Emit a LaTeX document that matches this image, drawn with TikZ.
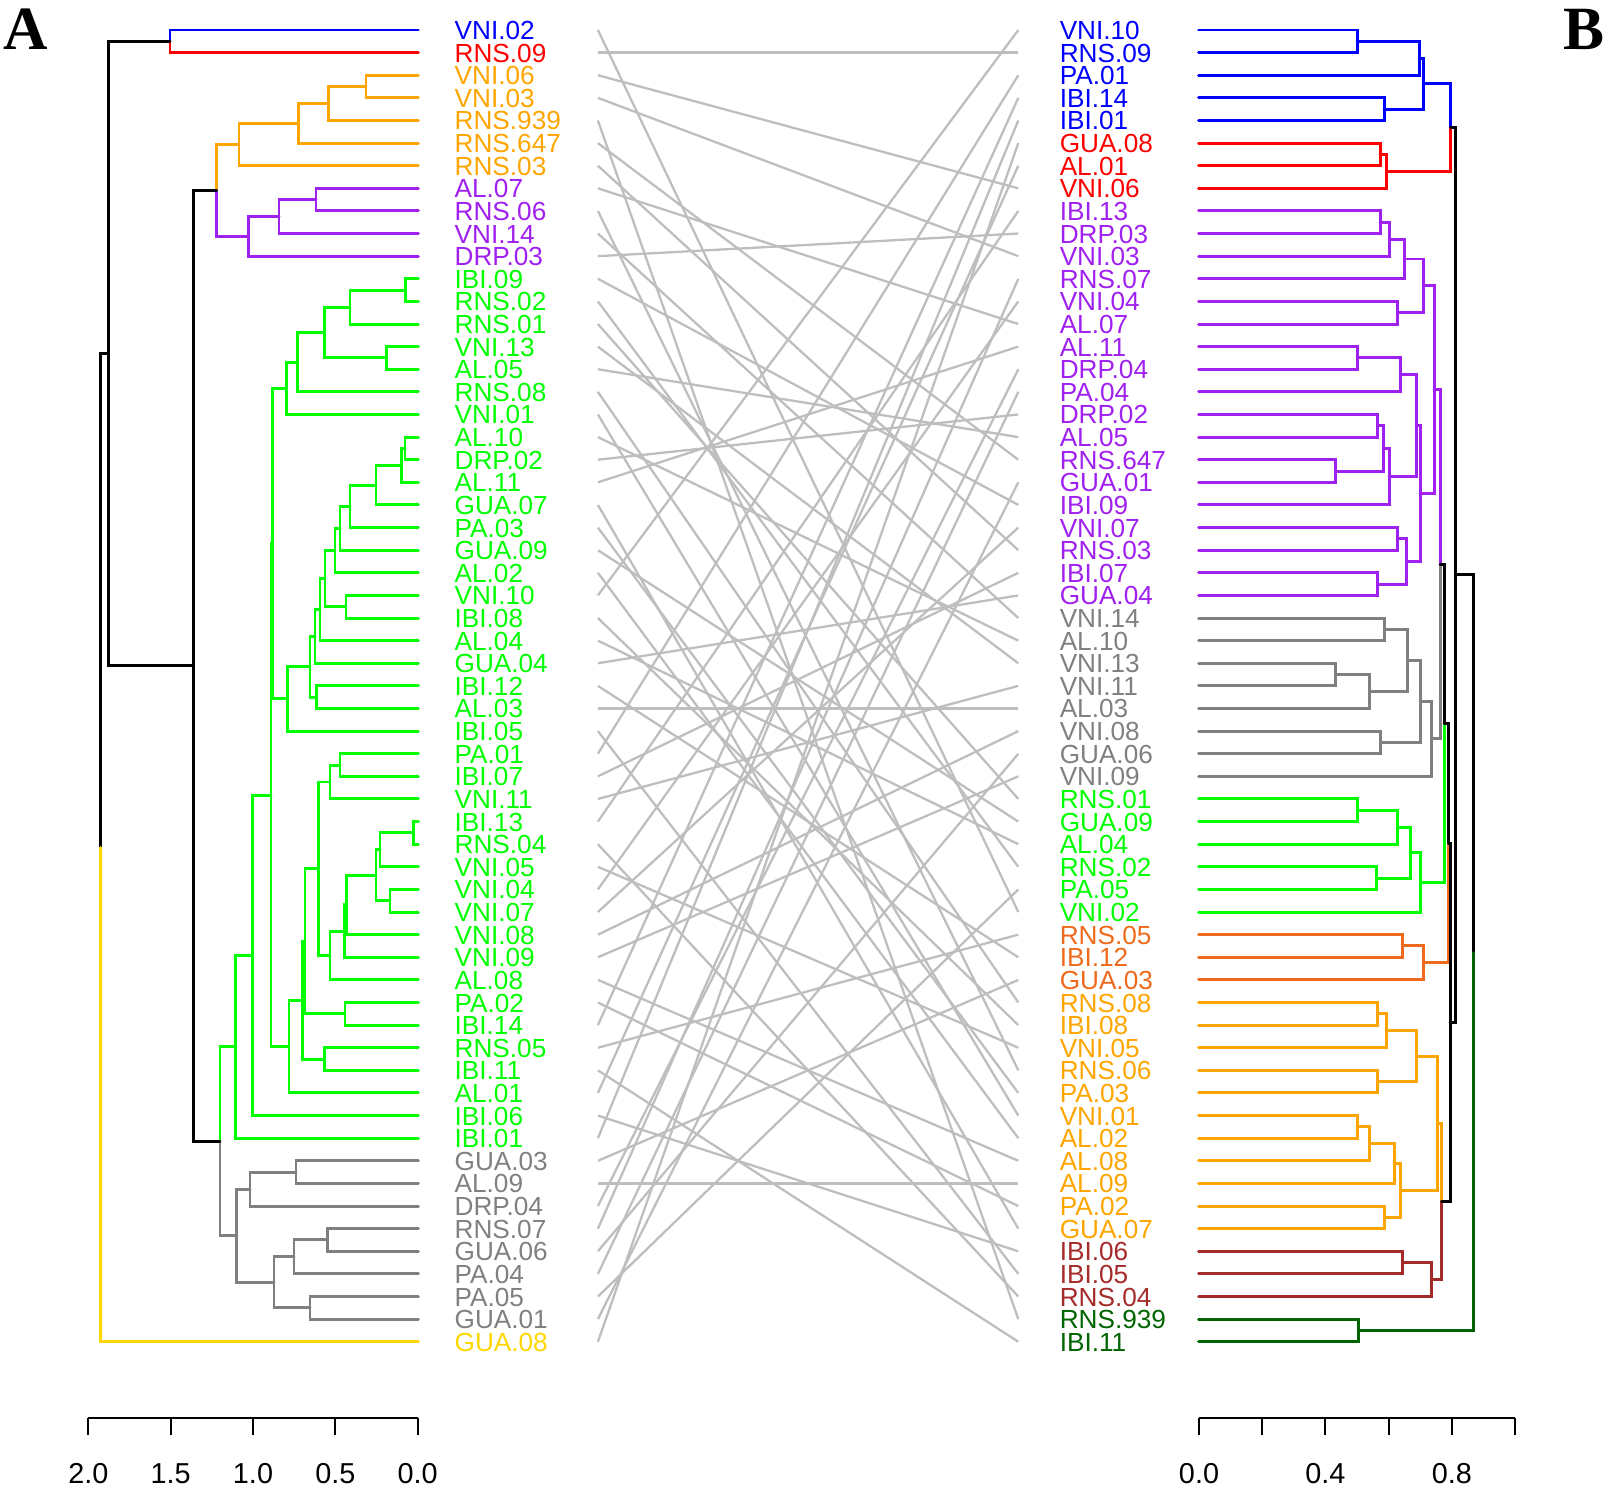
\documentclass[tikz,border=0pt]{standalone}
\usepackage{fontspec}
\setmainfont{Liberation Sans}
\newfontfamily\panelfont{Liberation Serif}
\usetikzlibrary{calc}

\definecolor{cblu}{HTML}{0000FF}
\definecolor{cred}{HTML}{FF0000}
\definecolor{corg}{HTML}{FFA500}
\definecolor{cpur}{HTML}{A020F0}
\definecolor{cgrn}{HTML}{00FF00}
\definecolor{cgry}{HTML}{808080}
\definecolor{cgld}{HTML}{FFD700}
\definecolor{cdor}{HTML}{EE6A1C}
\definecolor{cbrn}{HTML}{A52A2A}
\definecolor{cdgr}{HTML}{006400}
\definecolor{clink}{HTML}{BEBEBE}

\tikzset{
  branch/.style={line width=1.7pt, line cap=round},
  link/.style={clink, line width=1.3pt},
  axisline/.style={line width=1.1pt},
  leaflab/.style={anchor=base west, inner sep=0pt, font=\fontsize{14.9}{15}\selectfont},
  ticklab/.style={anchor=base, inner sep=0pt, font=\fontsize{16.4}{17}\selectfont},
  panel/.style={anchor=base west, inner sep=0pt, font=\panelfont\bfseries\fontsize{35}{35}\selectfont}
}

% merge: name, x, first child, second child, colour to first, colour to second
\newcommand{\mrg}[6]{%
  \coordinate (#1m) at ($(#3)!.5!(#4)$);
  \coordinate (#1) at (#1m -| #2,0);
  \draw[branch,#5] (#1) |- (#3);
  \draw[branch,#6] (#1) |- (#4);
}

\begin{document}
\begin{tikzpicture}[x=0.02cm,y=-0.02cm]
\useasboundingbox (0,0) rectangle (1608,1488);

\foreach \lab/\col [count=\i] in {VNI.10/cblu, RNS.09/cblu, PA.01/cblu, IBI.14/cblu, IBI.01/cblu,
  GUA.08/cred, AL.01/cred, VNI.06/cred,
  IBI.13/cpur, DRP.03/cpur, VNI.03/cpur, RNS.07/cpur, VNI.04/cpur, AL.07/cpur, AL.11/cpur,
  DRP.04/cpur, PA.04/cpur, DRP.02/cpur, AL.05/cpur, RNS.647/cpur, GUA.01/cpur, IBI.09/cpur,
  VNI.07/cpur, RNS.03/cpur, IBI.07/cpur, GUA.04/cpur,
  VNI.14/cgry, AL.10/cgry, VNI.13/cgry, VNI.11/cgry, AL.03/cgry, VNI.08/cgry, GUA.06/cgry, VNI.09/cgry,
  RNS.01/cgrn, GUA.09/cgrn, AL.04/cgrn, RNS.02/cgrn, PA.05/cgrn, VNI.02/cgrn,
  RNS.05/cdor, IBI.12/cdor, GUA.03/cdor,
  RNS.08/corg, IBI.08/corg, VNI.05/corg, RNS.06/corg, PA.03/corg, VNI.01/corg, AL.02/corg,
  AL.08/corg, AL.09/corg, PA.02/corg, GUA.07/corg,
  IBI.06/cbrn, IBI.05/cbrn, RNS.04/cbrn, RNS.939/cdgr, IBI.11/cdgr} {
  \pgfmathsetmacro\yy{30+(\i-1)*22.616}
  \coordinate (r\i) at (1198.5,\yy);
  \coordinate (mr\i) at (1018.3,\yy);
  \node[leaflab,text=\col] (R\i) at (1059.4,\yy+9.5) {\lab};
}

\foreach \lab/\col/\j [count=\i] in {VNI.02/cblu/40, RNS.09/cred/2,
  VNI.06/corg/8, VNI.03/corg/11, RNS.939/corg/58, RNS.647/corg/20, RNS.03/corg/24,
  AL.07/cpur/14, RNS.06/cpur/47, VNI.14/cpur/27, DRP.03/cpur/10,
  IBI.09/cgrn/22, RNS.02/cgrn/38, RNS.01/cgrn/35, VNI.13/cgrn/29, AL.05/cgrn/19, RNS.08/cgrn/44,
  VNI.01/cgrn/49, AL.10/cgrn/28, DRP.02/cgrn/18, AL.11/cgrn/15, GUA.07/cgrn/54, PA.03/cgrn/48,
  GUA.09/cgrn/36, AL.02/cgrn/50, VNI.10/cgrn/1, IBI.08/cgrn/45, AL.04/cgrn/37, GUA.04/cgrn/26,
  IBI.12/cgrn/42, AL.03/cgrn/31, IBI.05/cgrn/56, PA.01/cgrn/3, IBI.07/cgrn/25, VNI.11/cgrn/30,
  IBI.13/cgrn/9, RNS.04/cgrn/57, VNI.05/cgrn/46, VNI.04/cgrn/13, VNI.07/cgrn/23, VNI.08/cgrn/32,
  VNI.09/cgrn/34, AL.08/cgrn/51, PA.02/cgrn/53, IBI.14/cgrn/4, RNS.05/cgrn/41, IBI.11/cgrn/59,
  AL.01/cgrn/7, IBI.06/cgrn/55, IBI.01/cgrn/5,
  GUA.03/cgry/43, AL.09/cgry/52, DRP.04/cgry/16, RNS.07/cgry/12, GUA.06/cgry/33, PA.04/cgry/17,
  PA.05/cgry/39, GUA.01/cgry/21, GUA.08/cgld/6} {
  \pgfmathsetmacro\yy{30+(\i-1)*22.616}
  \coordinate (l\i) at (418.3,\yy);
  \coordinate (ml\i) at (597.9,\yy);
  \node[leaflab,text=\col] (L\i) at (454.3,\yy+9.5) {\lab};
  \draw[link] (ml\i) -- (mr\j);
}

% left tree
\mrg{aE3}{366}{l3}{l4}{corg}{corg}
\mrg{aE2}{328.3}{aE3}{l5}{corg}{corg}
\mrg{aE1}{298.3}{aE2}{l6}{corg}{corg}
\mrg{aE}{239}{aE1}{l7}{corg}{corg}
\mrg{aP2}{316}{l8}{l9}{cpur}{cpur}
\mrg{aP1}{279}{aP2}{l10}{cpur}{cpur}
\mrg{aP}{248.3}{aP1}{l11}{cpur}{cpur}
\mrg{aC}{216.7}{aE}{aP}{corg}{cpur}
\mrg{aGd}{405.7}{l12}{l13}{cgrn}{cgrn}
\mrg{aGc}{350}{aGd}{l14}{cgrn}{cgrn}
\mrg{aGe}{386.7}{l15}{l16}{cgrn}{cgrn}
\mrg{aGb}{324.3}{aGc}{aGe}{cgrn}{cgrn}
\mrg{aGa}{297.3}{aGb}{l17}{cgrn}{cgrn}
\mrg{aG4}{286.7}{aGa}{l18}{cgrn}{cgrn}
\mrg{aG15}{405}{l19}{l20}{cgrn}{cgrn}
\mrg{aG14}{401.7}{aG15}{l21}{cgrn}{cgrn}
\mrg{aG13}{376}{aG14}{l22}{cgrn}{cgrn}
\mrg{aG12}{350}{aG13}{l23}{cgrn}{cgrn}
\mrg{aG11}{340}{aG12}{l24}{cgrn}{cgrn}
\mrg{aG10}{335}{aG11}{l25}{cgrn}{cgrn}
\mrg{aG9b}{346}{l26}{l27}{cgrn}{cgrn}
\mrg{aG9}{325}{aG10}{aG9b}{cgrn}{cgrn}
\mrg{aG8}{320}{aG9}{l28}{cgrn}{cgrn}
\mrg{aG7}{315}{aG8}{l29}{cgrn}{cgrn}
\mrg{aG6b}{316.7}{l30}{l31}{cgrn}{cgrn}
\mrg{aG6}{310}{aG7}{aG6b}{cgrn}{cgrn}
\mrg{aG5}{287.7}{aG6}{l32}{cgrn}{cgrn}
\mrg{aG3}{272.7}{aG4}{aG5}{cgrn}{cgrn}
\mrg{aJ1}{340}{l33}{l34}{cgrn}{cgrn}
\mrg{aJ2}{330}{aJ1}{l35}{cgrn}{cgrn}
\mrg{aK1}{413.3}{l36}{l37}{cgrn}{cgrn}
\mrg{aK2}{380}{aK1}{l38}{cgrn}{cgrn}
\mrg{aK3b}{390}{l39}{l40}{cgrn}{cgrn}
\mrg{aK3}{376}{aK2}{aK3b}{cgrn}{cgrn}
\mrg{aK4}{346.7}{aK3}{l41}{cgrn}{cgrn}
\mrg{aK5}{344.3}{aK4}{l42}{cgrn}{cgrn}
\mrg{aK6}{330}{aK5}{l43}{cgrn}{cgrn}
\mrg{aK7}{318.3}{aJ2}{aK6}{cgrn}{cgrn}
\mrg{aK8b}{345}{l44}{l45}{cgrn}{cgrn}
\mrg{aK8}{305}{aK7}{aK8b}{cgrn}{cgrn}
\mrg{aB1b}{324.3}{l46}{l47}{cgrn}{cgrn}
\mrg{aB1}{302.3}{aK8}{aB1b}{cgrn}{cgrn}
\mrg{aB0}{289}{aB1}{l48}{cgrn}{cgrn}
\mrg{aG2}{271}{aG3}{aB0}{cgrn}{cgrn}
\mrg{aG1}{252.3}{aG2}{l49}{cgrn}{cgrn}
\mrg{aG}{235.7}{aG1}{l50}{cgrn}{cgrn}
\mrg{aH1a}{296}{l51}{l52}{cgry}{cgry}
\mrg{aH1}{250}{aH1a}{l53}{cgry}{cgry}
\mrg{aH2c}{327.3}{l54}{l55}{cgry}{cgry}
\mrg{aH2a}{294}{aH2c}{l56}{cgry}{cgry}
\mrg{aH2b}{310}{l57}{l58}{cgry}{cgry}
\mrg{aH2}{274}{aH2a}{aH2b}{cgry}{cgry}
\mrg{aH}{236.7}{aH1}{aH2}{cgry}{cgry}
\mrg{aD}{220}{aG}{aH}{cgrn}{cgry}
\mrg{aB}{193.3}{aC}{aD}{black}{black}
\mrg{aBR}{170}{l1}{l2}{cblu}{cred}
\mrg{aA}{108.3}{aBR}{aB}{black}{black}
\mrg{aRoot}{100.7}{aA}{l59}{black}{cgld}

% right tree
\mrg{bB1}{1357.3}{r1}{r2}{cblu}{cblu}
\mrg{bB2}{1419.3}{bB1}{r3}{cblu}{cblu}
\mrg{bB3}{1384}{r4}{r5}{cblu}{cblu}
\mrg{bB}{1423.3}{bB2}{bB3}{cblu}{cblu}
\mrg{bR1}{1380}{r6}{r7}{cred}{cred}
\mrg{bR}{1386.7}{bR1}{r8}{cred}{cred}
\mrg{bBR}{1450.7}{bB}{bR}{cblu}{cred}
\mrg{bP1}{1380}{r9}{r10}{cpur}{cpur}
\mrg{bP2}{1389}{bP1}{r11}{cpur}{cpur}
\mrg{bP3}{1404}{bP2}{r12}{cpur}{cpur}
\mrg{bP4}{1397.3}{r13}{r14}{cpur}{cpur}
\mrg{bP5}{1423.3}{bP3}{bP4}{cpur}{cpur}
\mrg{bW1}{1357.3}{r15}{r16}{cpur}{cpur}
\mrg{bW2}{1400.7}{bW1}{r17}{cpur}{cpur}
\mrg{bW3}{1377.3}{r18}{r19}{cpur}{cpur}
\mrg{bW4}{1335.7}{r20}{r21}{cpur}{cpur}
\mrg{bW5}{1383.3}{bW3}{bW4}{cpur}{cpur}
\mrg{bW6}{1389}{bW5}{r22}{cpur}{cpur}
\mrg{bW}{1416.7}{bW2}{bW6}{cpur}{cpur}
\mrg{bX1}{1397.3}{r23}{r24}{cpur}{cpur}
\mrg{bX2}{1377.7}{r25}{r26}{cpur}{cpur}
\mrg{bX3}{1406.7}{bX1}{bX2}{cpur}{cpur}
\mrg{bX}{1420}{bW}{bX3}{cpur}{cpur}
\mrg{bV}{1434}{bP5}{bX}{cpur}{cpur}
\mrg{bG1}{1384.3}{r27}{r28}{cgry}{cgry}
\mrg{bG2}{1335.7}{r29}{r30}{cgry}{cgry}
\mrg{bG3}{1369.3}{bG2}{r31}{cgry}{cgry}
\mrg{bG4}{1407.7}{bG1}{bG3}{cgry}{cgry}
\mrg{bG5}{1380.7}{r32}{r33}{cgry}{cgry}
\mrg{bG6}{1420}{bG4}{bG5}{cgry}{cgry}
\mrg{bG}{1431.7}{bG6}{r34}{cgry}{cgry}
\mrg{bPG}{1440}{bV}{bG}{cpur}{cgry}
\mrg{bN1}{1357.3}{r35}{r36}{cgrn}{cgrn}
\mrg{bN2}{1397.3}{bN1}{r37}{cgrn}{cgrn}
\mrg{bN3}{1376.7}{r38}{r39}{cgrn}{cgrn}
\mrg{bN4}{1410}{bN2}{bN3}{cgrn}{cgrn}
\mrg{bN}{1420.7}{bN4}{r40}{cgrn}{cgrn}
\mrg{bQ}{1444}{bPG}{bN}{black}{cgrn}
\mrg{bO1}{1402.7}{r41}{r42}{cdor}{cdor}
\mrg{bO}{1423.3}{bO1}{r43}{cdor}{cdor}
\mrg{bRR}{1448.3}{bQ}{bO}{black}{cdor}
\mrg{bY1}{1377.7}{r44}{r45}{corg}{corg}
\mrg{bY2}{1386.7}{bY1}{r46}{corg}{corg}
\mrg{bY3}{1377.7}{r47}{r48}{corg}{corg}
\mrg{bY4}{1416.7}{bY2}{bY3}{corg}{corg}
\mrg{bY5}{1357.3}{r49}{r50}{corg}{corg}
\mrg{bY6}{1369}{bY5}{r51}{corg}{corg}
\mrg{bY7}{1394}{bY6}{r52}{corg}{corg}
\mrg{bY8}{1384}{r53}{r54}{corg}{corg}
\mrg{bY9}{1400.7}{bY7}{bY8}{corg}{corg}
\mrg{bY}{1437.3}{bY4}{bY9}{corg}{corg}
\mrg{bK1}{1402.7}{r55}{r56}{cbrn}{cbrn}
\mrg{bK}{1431.3}{bK1}{r57}{cbrn}{cbrn}
\mrg{bU}{1441.7}{bY}{bK}{corg}{cbrn}
\mrg{bT}{1450}{bRR}{bU}{black}{black}
\mrg{bTop}{1455.7}{bBR}{bT}{black}{black}
\mrg{bD}{1358.3}{r58}{r59}{cdgr}{cdgr}
\mrg{bRoot}{1473.3}{bTop}{bD}{black}{cdgr}

% axes
\draw[axisline] (88.3,1418) -- (417.7,1418);
\foreach \h/\t in {0/0.0, 0.5/0.5, 1/1.0, 1.5/1.5, 2/2.0} {
  \draw[axisline] (417.7-164.7*\h,1418) -- ++(0,17);
  \node[ticklab] at (417.7-164.7*\h,1483) {\t};
}
\draw[axisline] (1199,1418) -- (1515,1418);
\foreach \h in {0,0.2,0.4,0.6,0.8,1} {
  \draw[axisline] (1199+316*\h,1418) -- ++(0,17);
}
\foreach \h/\t in {0/0.0, 0.4/0.4, 0.8/0.8} {
  \node[ticklab] at (1199+316*\h,1483) {\t};
}

\node[panel] (pA) at (3,49) {A};
\node[panel] (pB) at (1563,49) {B};
\end{tikzpicture}
\end{document}
